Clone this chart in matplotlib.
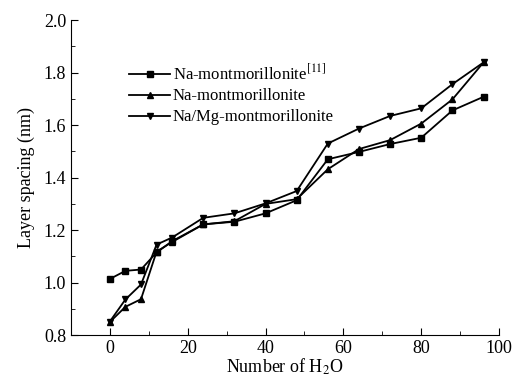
import numpy as np
import matplotlib.pyplot as plt
from matplotlib.ticker import MultipleLocator

plt.rcParams['font.family'] = ['Liberation Serif', 'DejaVu Serif']
plt.rcParams['mathtext.fontset'] = 'stix'

# 水分子数
n_h2o = [0, 4, 8, 12, 16, 24, 32, 40, 48, 56, 64, 72, 80, 88, 96]

# 层间距 (nm)
na_mmt_ref = [1.014, 1.045, 1.050, 1.115, 1.158, 1.222, 1.232, 1.264, 1.314,
              1.470, 1.498, 1.528, 1.552, 1.656, 1.708]
na_mmt = [0.850, 0.908, 0.937, 1.118, 1.155, 1.222, 1.234, 1.300, 1.318,
          1.432, 1.509, 1.543, 1.606, 1.698, 1.839]
na_mg_mmt = [0.852, 0.936, 0.993, 1.145, 1.172, 1.247, 1.264, 1.302, 1.349,
             1.530, 1.587, 1.635, 1.664, 1.756, 1.839]

labels = ['Na-montmorillonite$^{[11]}$', 'Na-montmorillonite', 'Na/Mg-montmorillonite']

fig = plt.figure(figsize=(5.14, 3.8), dpi=100)
ax = fig.add_axes([0.138, 0.118, 0.833, 0.829])

ax.plot(n_h2o, na_mmt_ref, '-s', color='black', lw=1.3, ms=4.5, label=labels[0])
ax.plot(n_h2o, na_mmt, '-^', color='black', lw=1.3, ms=5, label=labels[1])
ax.plot(n_h2o, na_mg_mmt, '-v', color='black', lw=1.3, ms=5, label=labels[2])

ax.set_xlim(-10, 100)
ax.set_ylim(0.8, 2.0)
ax.xaxis.set_major_locator(MultipleLocator(20))
ax.xaxis.set_minor_locator(MultipleLocator(10))
ax.yaxis.set_major_locator(MultipleLocator(0.2))
ax.yaxis.set_minor_locator(MultipleLocator(0.1))
ax.yaxis.set_major_formatter(plt.FormatStrFormatter('%.1f'))

ax.spines['top'].set_visible(False)
ax.spines['right'].set_visible(False)
ax.tick_params(which='both', direction='in', labelsize=13)
ax.tick_params(which='major', length=5)
ax.tick_params(which='minor', length=3)

ax.set_xlabel('Number of H$_2$O', fontsize=13, labelpad=0)
ax.set_ylabel('Layer spacing (nm)', fontsize=13, labelpad=6)

ax.legend(loc='upper left', bbox_to_anchor=(0.1, 0.91), frameon=False,
          fontsize=12, handlelength=2.5, handletextpad=0.15, labelspacing=0.3)

plt.savefig('out.png', dpi=100)
